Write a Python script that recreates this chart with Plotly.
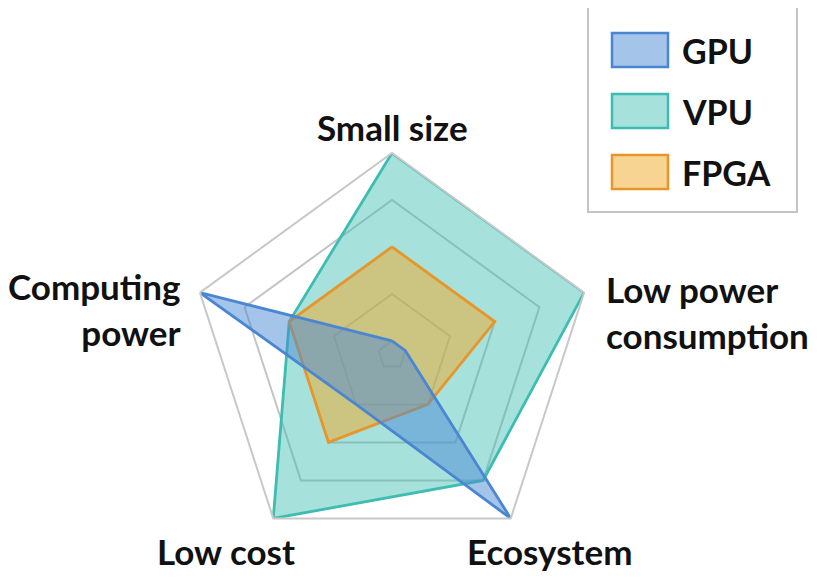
import plotly.graph_objects as go

W, H = 831, 587
OFF = 8  # page body margin offset

categories = ["Small size", "Low power consumption", "Ecosystem", "Low cost", "Computing power"]
axis_labels = ["Small size", "Low power<br>consumption", "Ecosystem", "Low cost", "Computing<br>power"]
gpu = [1, 1, 5, 2, 5]
vpu = [5, 5, 4, 5, 3]
fpga = [3, 3, 2, 3, 3]
series_names = ["GPU", "VPU", "FPGA"]

line_colors = {"GPU": "#4a86d2", "VPU": "#3dbdb2", "FPGA": "#e8952a"}
fill_colors = {"GPU": "rgba(74,138,212,0.5)", "VPU": "rgba(61,189,178,0.46)",
               "FPGA": "rgba(242,170,40,0.5)"}
data = {"GPU": gpu, "VPU": vpu, "FPGA": fpga}

FONT = "Lato"

fig = go.Figure()
for name in ["VPU", "FPGA", "GPU"]:
    vals = data[name]
    fig.add_trace(go.Scatterpolar(
        r=vals + vals[:1],
        theta=categories + categories[:1],
        mode="lines",
        fill="toself",
        fillcolor=fill_colors[name],
        line=dict(color=line_colors[name], width=2.8),
        name=name,
        showlegend=False,
        hoverinfo="skip",
    ))


def px(x, y):
    return (x - OFF) / W, 1 - (y - OFF) / H


# polar placement: centre (392,355), outer radius 202 px (page pixels)
cx, cy, R = 392, 355, 202
dx0, dy0 = px(cx - R, cy + R)
dx1, dy1 = px(cx + R, cy - R)
fig.update_layout(
    width=W, height=H,
    margin=dict(l=0, r=0, t=0, b=0),
    paper_bgcolor="white",
    plot_bgcolor="white",
    polar=dict(
        domain=dict(x=[dx0, dx1], y=[dy0, dy1]),
        bgcolor="white",
        gridshape="linear",
        radialaxis=dict(range=[0.7, 5], tickvals=[1, 2, 3, 4, 5], showticklabels=False,
                        ticks="", showline=False, gridcolor="#c4c4c4", gridwidth=2),
        angularaxis=dict(rotation=90, direction="clockwise", showticklabels=False,
                         ticks="", showgrid=False, showline=True, linecolor="#c8c8c8",
                         linewidth=2),
    ),
    font=dict(family=FONT),
)

# axis labels
label_pos = [
    (392, 127, "center", "center"),
    (604, 312, "left", "left"),
    (549, 551, "center", "center"),
    (226, 551, "center", "center"),
    (183, 309, "right", "right"),
]
for text, (x, y, xa, al) in zip(axis_labels, label_pos):
    X, Y = px(x, y)
    fig.add_annotation(x=X, y=Y, xref="paper", yref="paper", text="<b>" + text + "</b>",
                       showarrow=False, xanchor=xa, yanchor="middle", align=al,
                       font=dict(family=FONT, size=35, color="#111111"))

# legend box
x0, y0 = px(588, 3)
x1, y1 = px(797, 212)
fig.add_shape(type="rect", xref="paper", yref="paper", x0=x0, y0=y1, x1=x1, y1=y0,
              line=dict(color="#c4c4c4", width=2), fillcolor="white", layer="below")
swatch_y = [50, 111, 172]
for name, sy in zip(series_names, swatch_y):
    a, b = px(612, sy - 17)
    c, d = px(668, sy + 17)
    fig.add_shape(type="rect", xref="paper", yref="paper", x0=a, y0=d, x1=c, y1=b,
                  line=dict(color=line_colors[name], width=2.5), fillcolor=fill_colors[name])
    tx, ty = px(680, sy)
    fig.add_annotation(x=tx, y=ty, xref="paper", yref="paper", text="<b>" + name + "</b>",
                       showarrow=False, xanchor="left", yanchor="middle",
                       font=dict(family=FONT, size=34, color="#111111"))

fig.write_html("out.html")
